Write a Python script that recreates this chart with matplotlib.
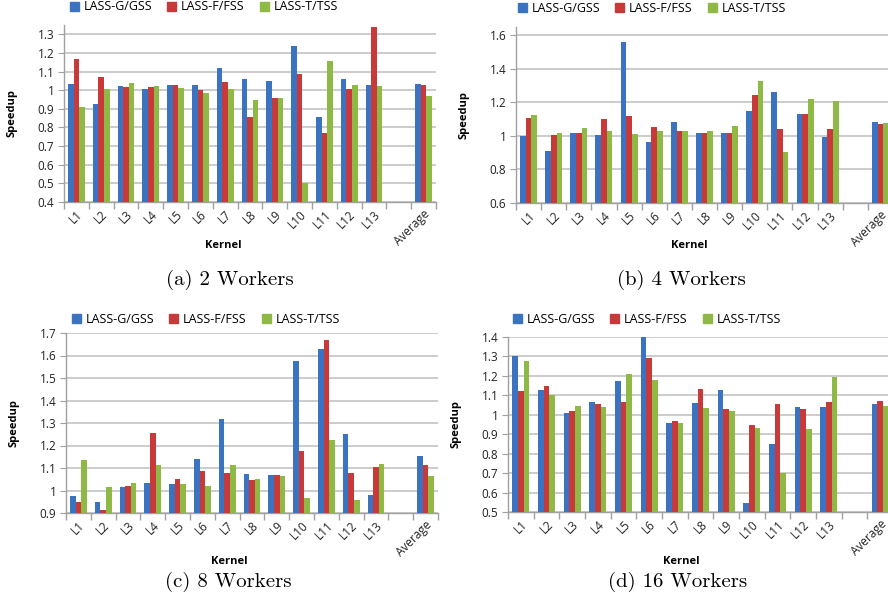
import numpy as np
import matplotlib
matplotlib.use('Agg')
import matplotlib.pyplot as plt
from matplotlib.patches import Patch

plt.rcParams['font.family'] = ['Open Sans', 'DejaVu Sans']

#%% Data
kernels = ['L1', 'L2', 'L3', 'L4', 'L5', 'L6', 'L7', 'L8', 'L9', 'L10',
           'L11', 'L12', 'L13', '', 'Average']
series = ['LASS-G/GSS', 'LASS-F/FSS', 'LASS-T/TSS']

# 2 workers
w2_g = [1.035, 0.925, 1.02, 1.005, 1.03, 1.03, 1.12, 1.06, 1.05, 1.235, 0.855, 1.06, 1.03, np.nan, 1.035]
w2_f = [1.17, 1.07, 1.015, 1.015, 1.03, 1.0, 1.045, 0.855, 0.96, 1.085, 0.77, 1.005, 1.34, np.nan, 1.03]
w2_t = [0.91, 1.005, 1.04, 1.02, 1.01, 0.985, 1.005, 0.95, 0.96, 0.5, 1.155, 1.03, 1.025, np.nan, 0.97]

# 4 workers
w4_g = [1.0, 0.91, 1.015, 1.005, 1.56, 0.965, 1.085, 1.015, 1.015, 1.15, 1.265, 1.13, 0.995, np.nan, 1.085]
w4_f = [1.105, 1.005, 1.015, 1.1, 1.12, 1.055, 1.03, 1.02, 1.015, 1.245, 1.04, 1.13, 1.04, np.nan, 1.07]
w4_t = [1.125, 1.015, 1.045, 1.03, 1.01, 1.03, 1.03, 1.03, 1.06, 1.33, 0.905, 1.22, 1.21, np.nan, 1.08]

# 8 workers
w8_g = [0.975, 0.95, 1.015, 1.035, 1.03, 1.14, 1.32, 1.075, 1.07, 1.575, 1.63, 1.25, 0.98, np.nan, 1.155]
w8_f = [0.95, 0.915, 1.02, 1.255, 1.05, 1.085, 1.08, 1.045, 1.07, 1.175, 1.67, 1.08, 1.105, np.nan, 1.115]
w8_t = [1.135, 1.015, 1.035, 1.115, 1.03, 1.02, 1.115, 1.05, 1.065, 0.965, 1.225, 0.96, 1.12, np.nan, 1.065]

# 16 workers
w16_g = [1.3, 1.13, 1.01, 1.065, 1.175, 1.4, 0.96, 1.06, 1.13, 0.545, 0.85, 1.04, 1.04, np.nan, 1.055]
w16_f = [1.12, 1.15, 1.02, 1.055, 1.065, 1.29, 0.97, 1.135, 1.03, 0.945, 1.055, 1.03, 1.065, np.nan, 1.07]
w16_t = [1.275, 1.1, 1.045, 1.04, 1.21, 1.18, 0.96, 1.035, 1.02, 0.93, 0.7, 0.925, 1.195, np.nan, 1.045]

colors = ['#3B73C0', '#C83A3A', '#8DB944']
W, H = 888, 613

#%% Panel layout, in pixels: (left, right, top, bottom), ylim, ticks, legend x/y, caption
panels = [
    dict(data=(w2_g, w2_f, w2_t), box=(64, 436, 25, 202), ylim=(0.4, 1.35),
         ticks=np.arange(0.4, 1.31, 0.1), leg=(70, 7), cap='(a) 2 Workers', capxy=(230, 280), kx=223, ky=246),
    dict(data=(w4_g, w4_f, w4_t), box=(516, 893, 27, 203), ylim=(0.6, 1.65),
         ticks=np.arange(0.6, 1.61, 0.2), leg=(518, 8), cap='(b) 4 Workers', capxy=(681, 280), kx=689, ky=246),
    dict(data=(w8_g, w8_f, w8_t), box=(66, 438, 333, 513), ylim=(0.9, 1.7),
         ticks=np.arange(0.9, 1.71, 0.1), leg=(72, 319), cap='(c) 8 Workers', capxy=(228, 582), kx=229, ky=562),
    dict(data=(w16_g, w16_f, w16_t), box=(508, 893, 337, 512), ylim=(0.5, 1.4),
         ticks=np.arange(0.5, 1.41, 0.1), leg=(513, 319), cap='(d) 16 Workers', capxy=(678, 582), kx=681, ky=562),
]

fig = plt.figure(figsize=(W / 100, H / 100), dpi=100)
x = np.arange(len(kernels))
bw = 0.225
fs = 8.5

for p in panels:
    l, r, t, b = p['box']
    ax = fig.add_axes([l / W, 1 - b / H, (r - l) / W, (b - t) / H])
    for i, vals in enumerate(p['data']):
        ax.bar(x + (i - 1) * bw, vals, bw, color=colors[i], bottom=0, zorder=3)
    ax.set_xlim(-0.5, len(kernels) - 0.5)
    ax.set_ylim(*p['ylim'])
    ax.set_yticks(p['ticks'])
    ax.set_yticklabels([f'{v:g}' for v in np.round(p['ticks'], 2)])
    ax.yaxis.grid(True, color='#C8C8C8', lw=1.3, zorder=0)
    # category ticks between the bars, Excel style
    ax.set_xticks(np.arange(-0.5, len(kernels), 1.0))
    ax.set_xticklabels([])
    ax.set_xticks(x, minor=True)
    ax.set_xticklabels(kernels, minor=True, rotation=45, ha='right', va='top',
                       rotation_mode='anchor', fontsize=fs, color='#222222')
    ax.tick_params(axis='x', which='minor', length=0, pad=4)
    ax.tick_params(axis='x', which='major', length=5, color='#A0A0A0', width=1)
    ax.tick_params(axis='y', length=4, color='#A0A0A0', labelsize=fs, labelcolor='#222222', pad=3)
    for s in ['top', 'right']:
        ax.spines[s].set_visible(False)
    for s in ['left', 'bottom']:
        ax.spines[s].set_color('#A0A0A0')
        ax.spines[s].set_linewidth(1)
    ax.set_ylabel('Speedup', fontsize=8, fontweight='bold')
    ax.yaxis.set_label_coords(-47 / (r - l), 0.5)
    fig.text(p['kx'] / W, 1 - p['ky'] / H, 'Kernel', fontsize=8, fontweight='bold',
             ha='center', va='center')
    handles = [Patch(color=c) for c in colors]
    fig.legend(handles, series, loc='center left', ncol=3, frameon=False,
               bbox_to_anchor=(p['leg'][0] / W, 1 - p['leg'][1] / H), borderpad=0, borderaxespad=0,
               handlelength=0.7, handleheight=0.7, handletextpad=0.4, columnspacing=1.2, fontsize=9)
    fig.text(p['capxy'][0] / W, 1 - p['capxy'][1] / H, p['cap'], fontsize=15,
             family='cmr10', ha='center', va='center')

fig.savefig('out.png', dpi=100)
